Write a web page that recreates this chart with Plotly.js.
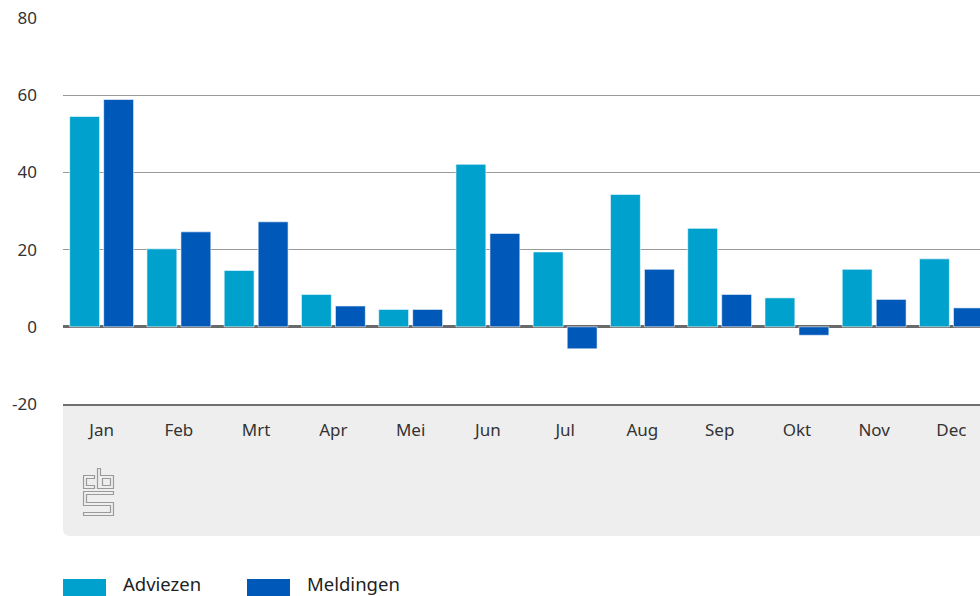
<!DOCTYPE html>
<html>
<head>
<meta charset="utf-8">
<script src="https://cdn.plot.ly/plotly-3.0.1.min.js"></script>
<style>html,body{margin:0;padding:0;background:#fff;}#chart{width:980px;height:596px;}</style>
</head>
<body>
<div id="chart"></div>
<script>
const months = ["Jan","Feb","Mrt","Apr","Mei","Jun","Jul","Aug","Sep","Okt","Nov","Dec"];
const seriesNames = ["Adviezen","Meldingen"];
const adviezen = [54.5, 20.2, 14.6, 8.4, 4.5, 42.1, 19.4, 34.3, 25.5, 7.5, 14.9, 17.6];
const meldingen = [58.9, 24.6, 27.2, 5.4, 4.5, 24.2, -5.7, 14.9, 8.4, -2.2, 7.1, 4.9];
const yTicks = [-20, 0, 20, 40, 60, 80];
const colors = ["#00a1cd", "#0058b8"];

const FONT = "'Noto Sans', 'Open Sans', sans-serif";

const traces = [
  {type:"bar", name:seriesNames[0], x:months, y:adviezen, marker:{color:colors[0], line:{color:"#ffffff", width:0.6}}, hoverinfo:"x+y"},
  {type:"bar", name:seriesNames[1], x:months, y:meldingen, marker:{color:colors[1], line:{color:"#ffffff", width:0.6}}, hoverinfo:"x+y"}
];

// pixel helpers (plot area: l=63, t=18, w=917, h=386)
const L = 63, T = 18, W = 917, H = 386;
const px = x => (x - L) / W;
const py = y => (T + H - y) / H;

const logoSvg = '<svg xmlns="http://www.w3.org/2000/svg" width="32" height="49" viewBox="-1 -1 32 49">' +
  '<g fill="none" stroke="#9a9a9a" stroke-width="1.2">' +
  '<path d="M11,7 H0 V20 H11 V17 H3 V10 H11 Z"/>' +
  '<path d="M14,0 H17 V7 H30 V20 H14 Z"/>' +
  '<path d="M19,10 H27 V17 H19 Z"/>' +
  '<path d="M30,23 H0 V37 H27 V44 H0 V47 H30 V34 H3 V26 H30 Z"/>' +
  '</g></svg>';

const shapes = [
  {type:"path", xref:"paper", yref:"paper", layer:"below",
   path:`M0,${py(404)} L1.05,${py(404)} L1.05,${py(536)} L${px(70)},${py(536)} Q0,${py(536)} 0,${py(529)} Z`,
   fillcolor:"#eeeeee", line:{width:0}},
  {type:"rect", xref:"paper", yref:"paper", x0:px(63), x1:px(106), y0:py(579), y1:py(602), fillcolor:colors[0], line:{width:0}},
  {type:"rect", xref:"paper", yref:"paper", x0:px(247), x1:px(290), y0:py(579), y1:py(602), fillcolor:colors[1], line:{width:0}}
];

const annotations = [
  {xref:"paper", yref:"paper", x:px(121), y:py(583), xanchor:"left", yanchor:"middle", text:seriesNames[0], showarrow:false, font:{family:FONT, size:18.5, color:"#222"}},
  {xref:"paper", yref:"paper", x:px(305), y:py(583), xanchor:"left", yanchor:"middle", text:seriesNames[1], showarrow:false, font:{family:FONT, size:18.5, color:"#222"}}
];

const layout = {
  width:980, height:596,
  margin:{l:L, r:0, t:T, b:596 - T - H, pad:0},
  paper_bgcolor:"#ffffff", plot_bgcolor:"rgba(0,0,0,0)",
  font:{family:FONT, color:"#333"},
  barmode:"group", bargap:0.12, bargroupgap:0.12,
  showlegend:false,
  xaxis:{range:[-0.5, 11.37], showgrid:false, zeroline:false, ticks:"", showline:true, linecolor:"#707070", linewidth:2,
         tickfont:{family:FONT, size:17, color:"#333"}, ticklabelstandoff:10, fixedrange:true},
  yaxis:{range:[-20, 80], tickvals:yTicks, ticktext:yTicks.map(String), showgrid:true, gridcolor:"#999999", gridwidth:1,
         zeroline:true, zerolinecolor:"#6a6a6a", zerolinewidth:3, ticks:"", showline:false,
         tickfont:{family:FONT, size:17, color:"#333"}, ticklabelstandoff:25, fixedrange:true},
  shapes:shapes,
  annotations:annotations,
  images:[{source:"data:image/svg+xml;utf8," + encodeURIComponent(logoSvg), xref:"paper", yref:"paper",
           x:px(82.5), y:py(467.5), sizex:32/W, sizey:49/H, xanchor:"left", yanchor:"top", sizing:"stretch", layer:"above"}]
};

Plotly.newPlot("chart", traces, layout, {displayModeBar:false, staticPlot:true});
</script>
</body>
</html>
